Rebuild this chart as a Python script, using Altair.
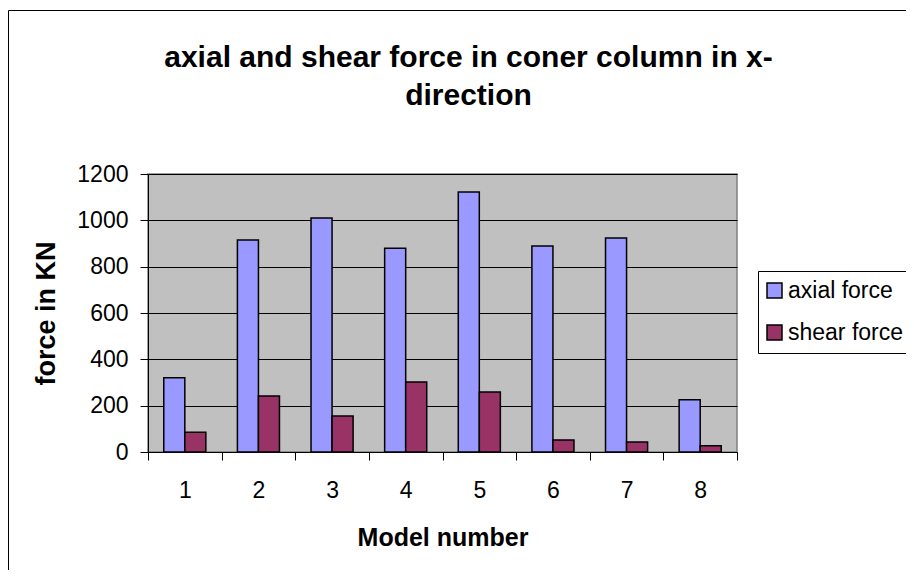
import altair as alt
import pandas as pd

models = [1, 2, 3, 4, 5, 6, 7, 8]
axial_force = [320, 915, 1010, 880, 1122, 889, 924, 226]
shear_force = [85, 242, 155, 302, 259, 52, 43, 27]
series_names = ["axial force", "shear force"]
series_colors = ["#9999FF", "#993366"]

rows = []
for m, a, s in zip(models, axial_force, shear_force):
    rows.append({"model": m, "series": series_names[0], "value": a})
    rows.append({"model": m, "series": series_names[1], "value": s})
df = pd.DataFrame(rows)

FONT = "Liberation Sans"

frame = alt.Chart(pd.DataFrame({"k": [0]})).mark_rect(
    fill="transparent", stroke="black", strokeWidth=1
).encode(
    x=alt.value(-139.5), x2=alt.value(900),
    y=alt.value(-163.5), y2=alt.value(600),
)

bars = alt.Chart(df).mark_bar(stroke="black", strokeWidth=1.5).encode(
    x=alt.X(
        "model:O",
        title="Model number",
        scale=alt.Scale(paddingInner=0, paddingOuter=0),
        axis=alt.Axis(
            labelAngle=0, tickBand="extent", tickSize=8, labelPadding=19,
            titlePadding=23, labelFontSize=23, titleFontSize=25,
            titleFontWeight="bold", domainColor="black", tickColor="black",
            labelColor="black", titleColor="black", labelFont=FONT, titleFont=FONT,
        ),
    ),
    xOffset=alt.XOffset(
        "series:N",
        scale=alt.Scale(domain=series_names, paddingInner=0, paddingOuter=0.75),
    ),
    y=alt.Y(
        "value:Q",
        title="force in KN",
        scale=alt.Scale(domain=[0, 1200]),
        axis=alt.Axis(
            values=[0, 200, 400, 600, 800, 1000, 1200], format="d",
            tickSize=8, labelPadding=12,
            titlePadding=16, labelFontSize=23, titleFontSize=27,
            titleFontWeight="bold", domainColor="black", tickColor="black",
            gridColor="black", gridWidth=1, grid=True,
            labelColor="black", titleColor="black", labelFont=FONT, titleFont=FONT,
        ),
    ),
    color=alt.Color(
        "series:N",
        scale=alt.Scale(domain=series_names, range=series_colors),
        legend=alt.Legend(
            title=None, orient="none", legendX=610, legendY=97,
            labelFontSize=23, labelFont=FONT, labelColor="black",
            symbolType="square", symbolSize=225, symbolStrokeColor="black",
            symbolStrokeWidth=1.5, strokeColor="black", fillColor="white",
            padding=8, rowPadding=18, labelOffset=2, symbolOffset=-3,
        ),
    ),
)

chart = alt.layer(frame, bars).properties(
    width=589,
    height=278,
    autosize=alt.AutoSizeParams(type="none"),
    padding={"left": 140, "top": 166, "right": 169, "bottom": 118},
    title=alt.TitleParams(
        text=["axial and shear force in coner column in x-", "direction"],
        fontSize=30, font=FONT, fontWeight="bold", color="black",
        anchor="middle", dx=26, offset=-101, lineHeight=38,
    ),
).configure_view(fill="#C0C0C0", stroke="#808080", strokeWidth=1.5)

chart.save("out.html", embed_options={"renderer": "svg", "actions": False})
